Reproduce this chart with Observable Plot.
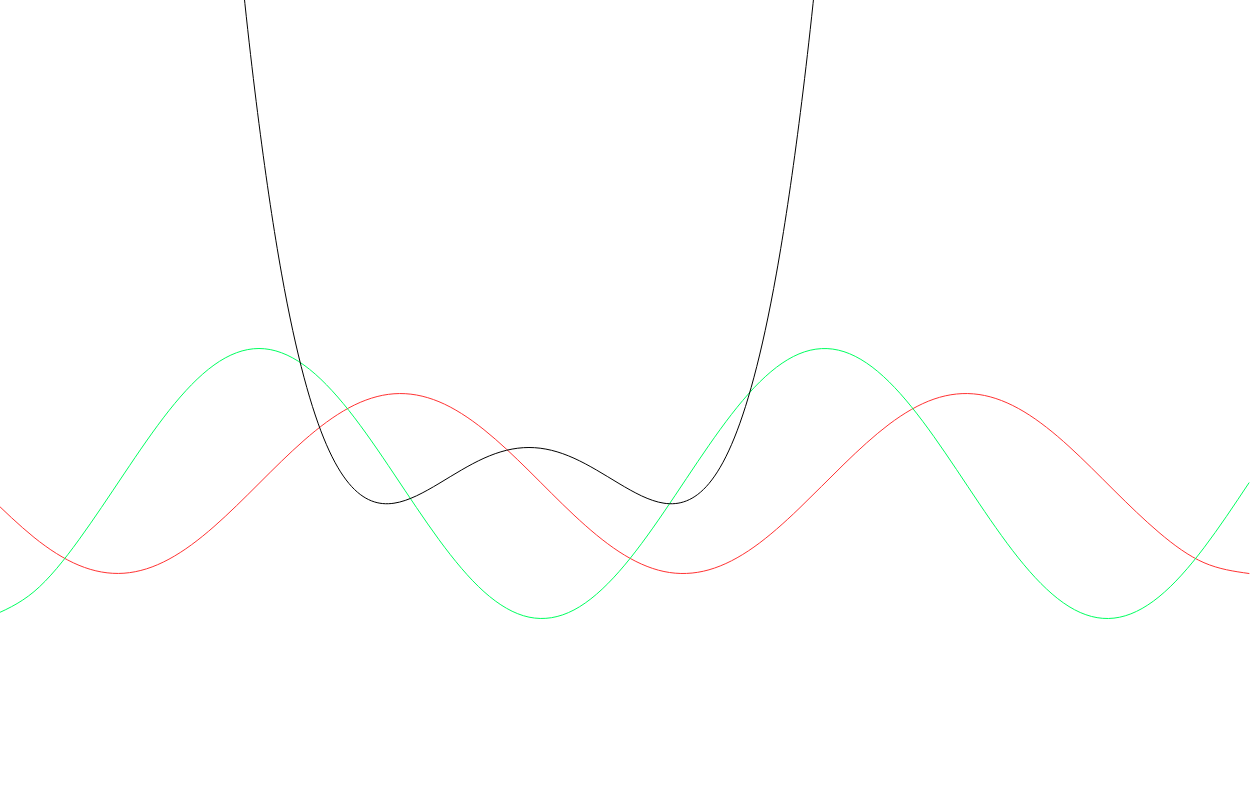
<!DOCTYPE html>
<html>
<head>
<meta charset="utf-8">
<script src="https://cdn.jsdelivr.net/npm/d3@7"></script>
<script src="https://cdn.jsdelivr.net/npm/@observablehq/plot@0.6"></script>
<style>
  html, body { margin: 0; padding: 0; background: #fff; }
  svg { display: block; }
</style>
</head>
<body>
<div id="chart"></div>
<script>
// Values
const xs = [-3, -2.5, -2, -1.5, -1, -0.5, 0, 0.5, 1, 1.5, 2, 2.5, 3, 3.5, 4, 4.5, 5, 5.5, 6, 6.5, 7, 7.5, 8, 8.5, 9, 9.5, 10, 10.5, 11];
const redValues = [-0.141, -0.598, -0.909, -0.997, -0.841, -0.479, 0, 0.479, 0.841, 0.997, 0.909, 0.598, 0.141, -0.351, -0.757, -0.978, -0.959, -0.706, -0.279, 0.215, 0.657, 0.938, 0.989, 0.798, 0.412, -0.075, -0.544, -0.880, -1.000];
const greenValues = [-1.485, -1.202, -0.624, 0.106, 0.810, 1.316, 1.5, 1.316, 0.810, 0.106, -0.624, -1.202, -1.485, -1.405, -0.980, -0.316, 0.425, 1.063, 1.440, 1.465, 1.131, 0.520, -0.218, -0.903, -1.367, -1.496, -1.259, -0.714, 0.007];
const blackXs = [-0.5, -0.25, 0, 0.25, 0.5, 0.75, 1, 1.25, 1.5, 1.75, 2, 2.25, 2.5, 2.75, 3, 3.25, 3.5, 3.75, 4, 4.25, 4.5, 4.75, 5, 5.25, 5.5, 5.75, 6, 6.25, 6.5];
const blackValues = [9.281, 6.276, 4.0, 2.338, 1.181, 0.431, 0, -0.193, -0.219, -0.137, 0, 0.150, 0.281, 0.369, 0.4, 0.369, 0.281, 0.150, 0, -0.137, -0.219, -0.193, 0, 0.431, 1.181, 2.338, 4.0, 6.276, 9.281];

const red = xs.map((x, i) => ({x, y: redValues[i]}));
const green = xs.map((x, i) => ({x, y: greenValues[i]}));
const black = blackXs.map((x, i) => ({x, y: blackValues[i]}));

const chart = Plot.plot({
  width: 1251,
  height: 805,
  margin: 0,
  x: {domain: [-2.872, 11.028], axis: null},
  y: {domain: [-3.578, 5.367], axis: null},
  marks: [
    Plot.line(red, {x: "x", y: "y", stroke: "#ff3333", strokeWidth: 1, curve: "natural", clip: true}),
    Plot.line(green, {x: "x", y: "y", stroke: "#00ff60", strokeWidth: 1, curve: "natural", clip: true}),
    Plot.line(black, {x: "x", y: "y", stroke: "#000000", strokeWidth: 1, curve: "natural", clip: true})
  ]
});
document.getElementById("chart").append(chart);
</script>
</body>
</html>
